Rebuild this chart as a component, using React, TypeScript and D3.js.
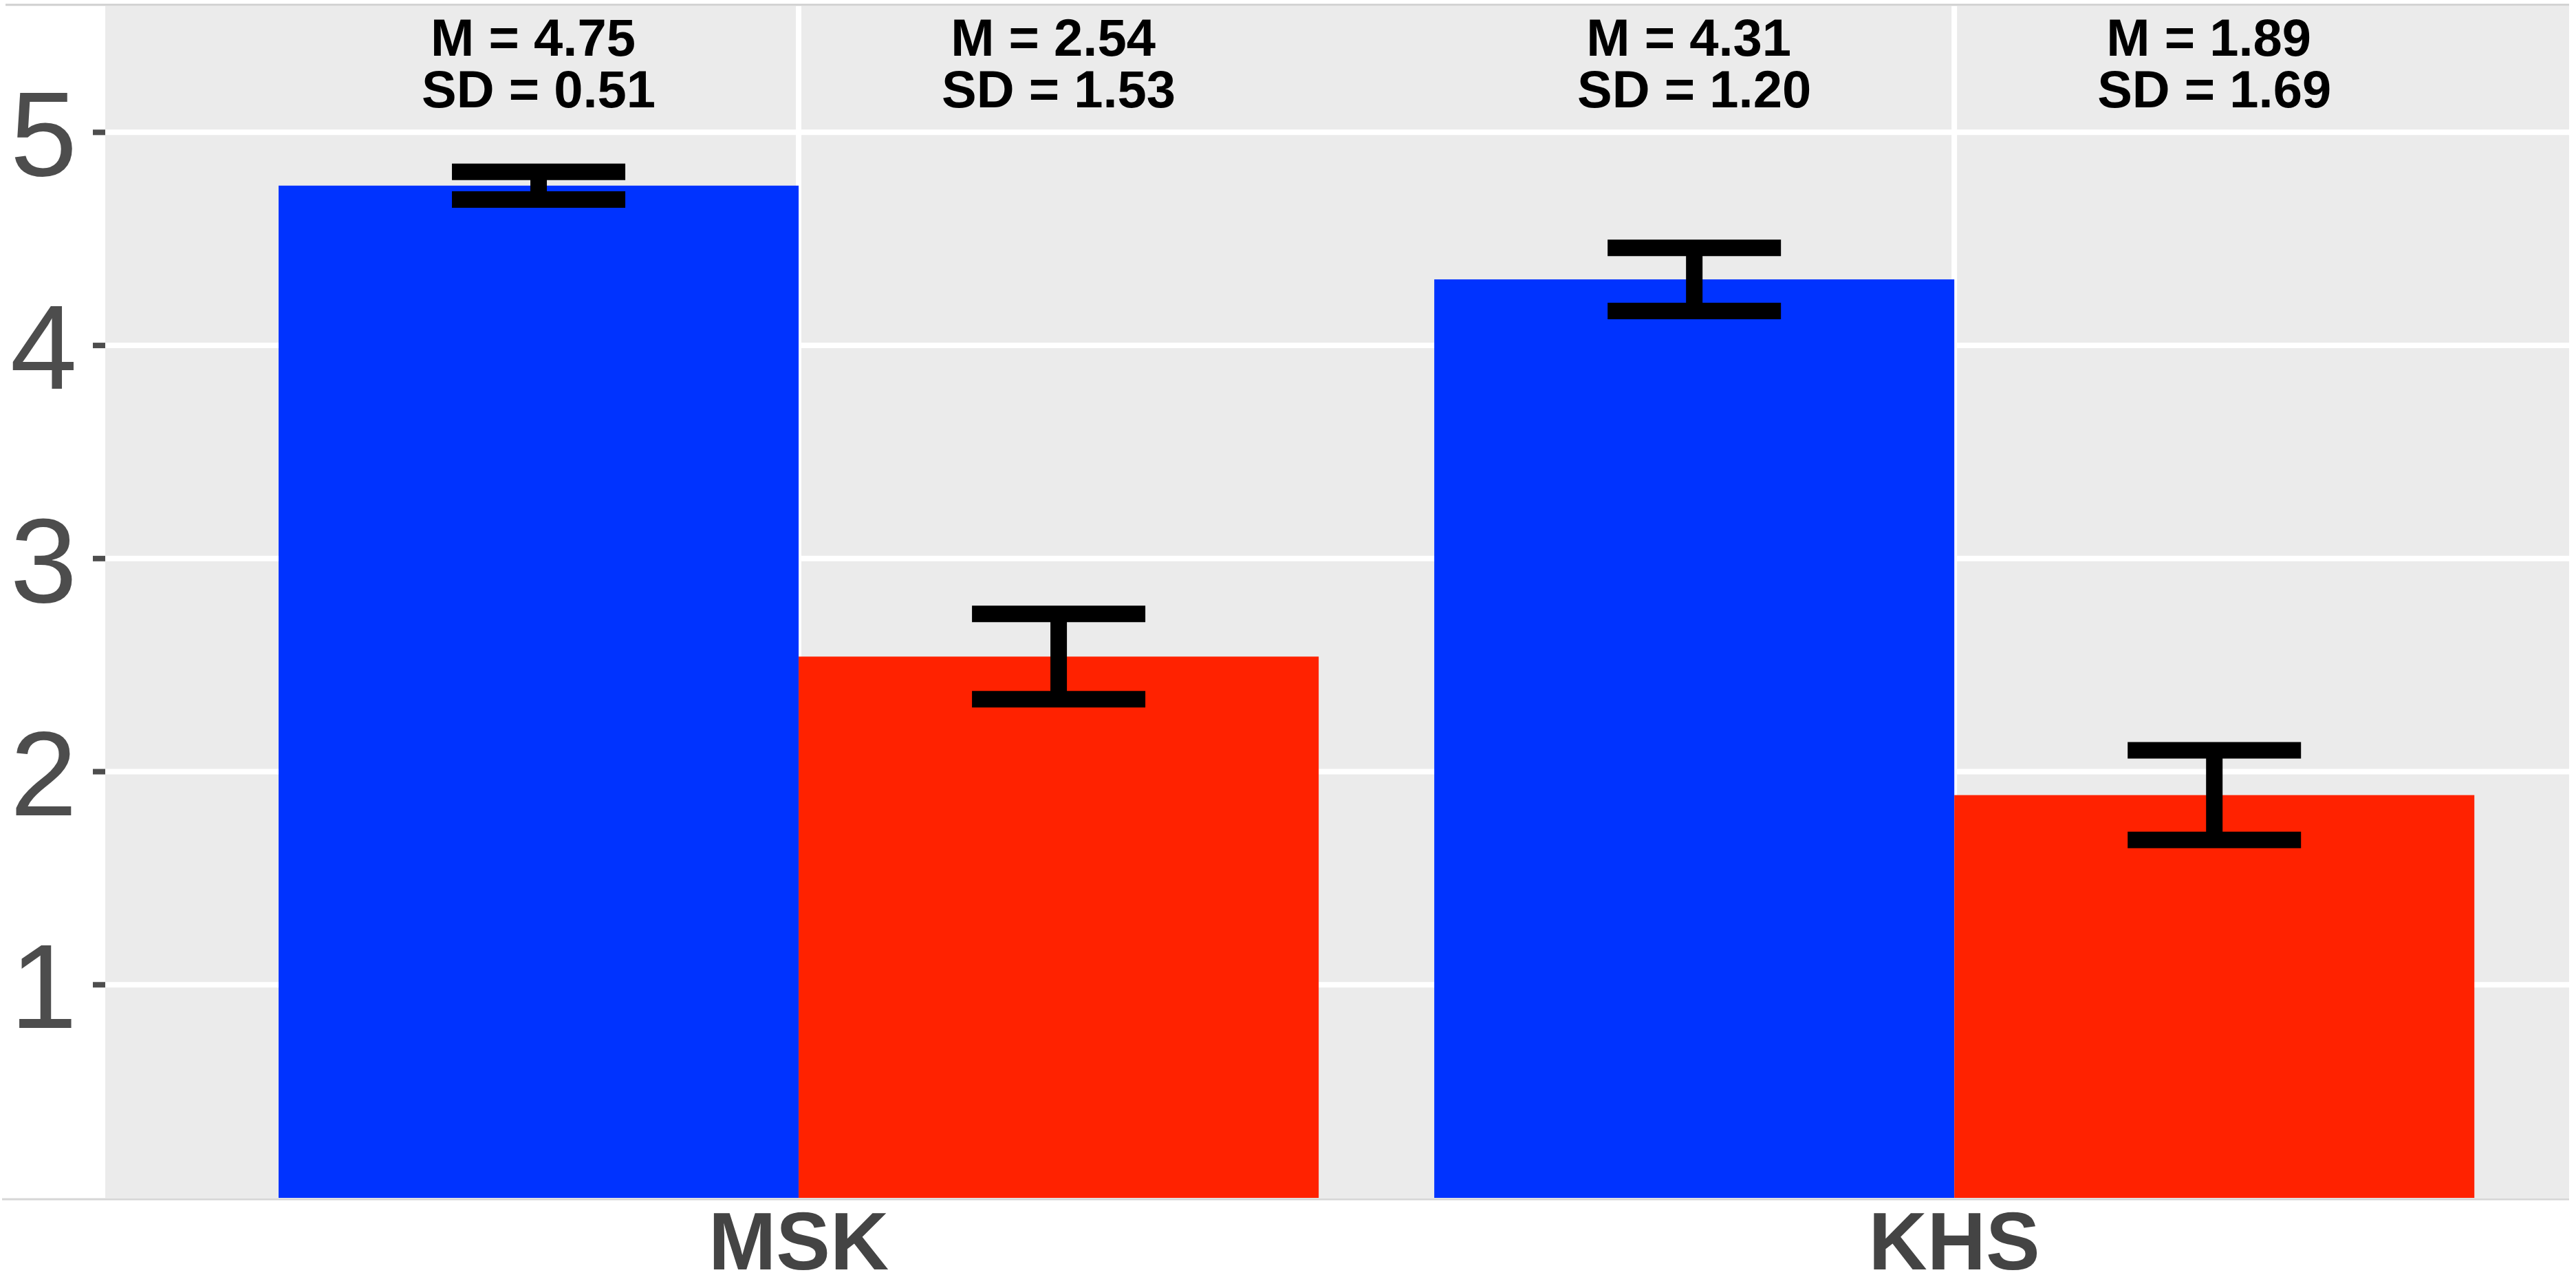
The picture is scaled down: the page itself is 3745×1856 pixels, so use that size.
import React from "react";
import * as d3 from "d3";

// Chart data
const categories = ["MSK", "KHS"];
const series = ["blue", "red"];
const meansBlue = [4.75, 4.31];
const meansRed = [2.54, 1.89];
const sdsBlue = [0.51, 1.2];
const sdsRed = [1.53, 1.69];
// half-length of the error bars (as drawn)
const errBlue = [0.065, 0.148];
const errRed = [0.2, 0.21];
const yTicks = [1, 2, 3, 4, 5];

const width = 3745;
const height = 1856;
const panel = { left: 153, right: 3735, top: 9, bottom: 1741 };
const colors: Record<string, string> = { blue: "#0033ff", red: "#ff2200" };
const labelY = 5.36;

const App: React.FC = () => {
  // Continuous x for discrete positions (1, 2), panel cropped on the right
  const x = d3
    .scaleLinear()
    .domain([0.4, 2.532])
    .range([panel.left, panel.right]);
  const y = d3
    .scaleLinear()
    .domain([0, 5.592])
    .range([panel.bottom, panel.top]);
  const dodge = d3.scaleBand().domain(series).range([-0.45, 0.45]);
  const barW = x(dodge.bandwidth()) - x(0);
  const capW = barW / 3;

  const rows = categories.flatMap((c, i) => [
    { cat: c, idx: i + 1, key: "blue", mean: meansBlue[i], sd: sdsBlue[i], err: errBlue[i] },
    { cat: c, idx: i + 1, key: "red", mean: meansRed[i], sd: sdsRed[i], err: errRed[i] },
  ]);

  const cx = (d: (typeof rows)[number]) =>
    x(d.idx + dodge(d.key)! + dodge.bandwidth() / 2);

  return (
    <svg
      width={width}
      height={height}
      style={{ position: "absolute", left: 0, top: 0, background: "#fff" }}
      fontFamily="'Liberation Sans', Arial, sans-serif"
    >
      {/* frame lines */}
      <line x1={8} x2={panel.right} y1={7} y2={7} stroke="#cfcfcf" strokeWidth={3} />
      <line x1={3} x2={panel.right} y1={1743} y2={1743} stroke="#d6d6d6" strokeWidth={3} />

      {/* panel */}
      <rect
        x={panel.left}
        y={panel.top}
        width={panel.right - panel.left}
        height={panel.bottom - panel.top}
        fill="#ebebeb"
      />
      {yTicks.map((t) => (
        <line key={t} x1={panel.left} x2={panel.right} y1={y(t)} y2={y(t)} stroke="#fff" strokeWidth={8} />
      ))}
      {categories.map((c, i) => (
        <line key={c} x1={x(i + 1)} x2={x(i + 1)} y1={panel.top} y2={panel.bottom} stroke="#fff" strokeWidth={8} />
      ))}

      {/* bars */}
      {rows.map((d) => (
        <rect
          key={d.cat + d.key}
          x={x(d.idx + dodge(d.key)!)}
          y={y(d.mean)}
          width={barW}
          height={y(0) - y(d.mean)}
          fill={colors[d.key]}
        />
      ))}

      {/* error bars */}
      {rows.map((d) => (
        <g key={"e" + d.cat + d.key} stroke="#000" strokeWidth={24}>
          <line x1={cx(d)} x2={cx(d)} y1={y(d.mean + d.err)} y2={y(d.mean - d.err)} />
          <line x1={cx(d) - capW / 2} x2={cx(d) + capW / 2} y1={y(d.mean + d.err)} y2={y(d.mean + d.err)} />
          <line x1={cx(d) - capW / 2} x2={cx(d) + capW / 2} y1={y(d.mean - d.err)} y2={y(d.mean - d.err)} />
        </g>
      ))}

      {/* M / SD annotations */}
      {rows.map((d) => (
        <text
          key={"t" + d.cat + d.key}
          x={cx(d) - 6}
          y={y(labelY)}
          textAnchor="middle"
          fontWeight="bold"
          fontSize={76}
          fill="#000"
        >
          <tspan x={cx(d) - 8}>{`M = ${d.mean.toFixed(2)}`}</tspan>
          <tspan x={cx(d)} dy={75}>{`SD = ${d.sd.toFixed(2)}`}</tspan>
        </text>
      ))}

      {/* y axis */}
      {yTicks.map((t) => (
        <g key={"y" + t}>
          <line x1={panel.left - 18} x2={panel.left} y1={y(t)} y2={y(t)} stroke="#4d4d4d" strokeWidth={8} />
          <text
            x={112}
            y={y(t)}
            dy="0.36em"
            textAnchor="end"
            fontSize={175}
            fill="#4d4d4d"
          >
            {t}
          </text>
        </g>
      ))}

      {/* x axis labels */}
      {categories.map((c, i) => (
        <text
          key={"x" + c}
          x={x(i + 1)}
          y={1845}
          textAnchor="middle"
          fontWeight="bold"
          fontSize={118}
          fill="#444"
        >
          {c}
        </text>
      ))}
    </svg>
  );
};

export default App;
